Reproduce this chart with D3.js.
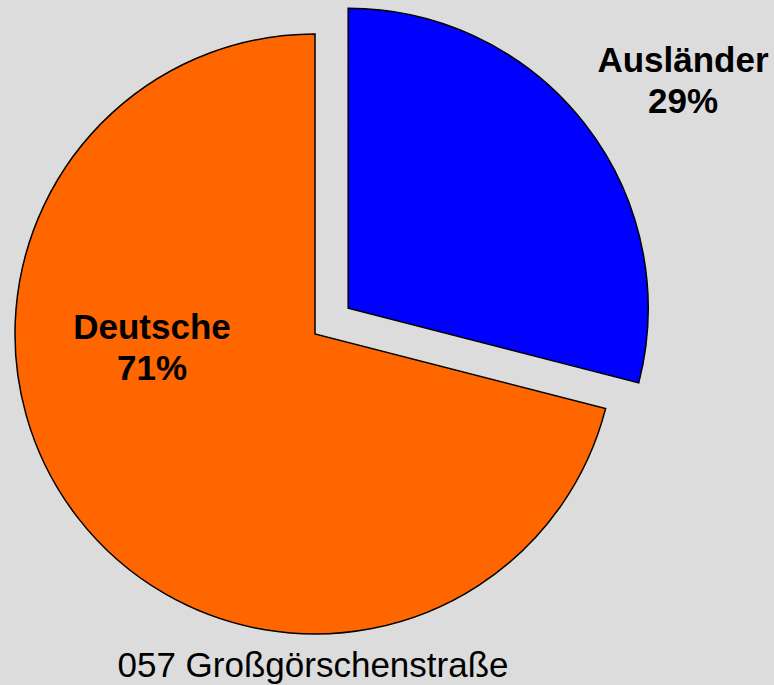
<!DOCTYPE html>
<html>
<head>
<meta charset="utf-8">
<script src="https://cdn.jsdelivr.net/npm/d3@7"></script>
<style>
  html, body { margin: 0; padding: 0; background: #dcdcdc; }
  svg { display: block; }
</style>
</head>
<body>
<div id="chart"></div>
<script>
// data
var categories = ['Ausländer', 'Deutsche']
var values = [29, 71]
var colors = ['#0000ff', '#ff6600']
var title = '057 Großgörschenstraße'

var width = 774, height = 685
var cx = 315, cy = 334, radius = 300
var explode = [42, 0]
// label anchor points (picked by eye from the original)
var labelPos = [[683, 72], [152, 339]]

var svg = d3.select('#chart').append('svg')
    .attr('width', width)
    .attr('height', height)

svg.append('rect')
    .attr('width', width)
    .attr('height', height)
    .attr('fill', '#dcdcdc')

var pie = d3.pie().sort(null).value(function(d){ return d })
var arc = d3.arc().innerRadius(0).outerRadius(radius)
var arcs = pie(values)

var g = svg.append('g')
    .attr('transform', 'translate(' + cx + ',' + cy + ')')

g.selectAll('path')
    .data(arcs)
  .enter().append('path')
    .attr('d', arc)
    .attr('fill', function(d, i){ return colors[i] })
    .attr('stroke', '#000')
    .attr('stroke-width', 1.5)
    .attr('stroke-linejoin', 'miter')
    .attr('transform', function(d, i){
      var a = (d.startAngle + d.endAngle) / 2
      return 'translate(' + (Math.sin(a) * explode[i]) + ',' + (-Math.cos(a) * explode[i]) + ')'
    })

// labels
var labels = svg.selectAll('.label')
    .data(arcs)
  .enter().append('text')
    .attr('class', 'label')
    .attr('x', function(d, i){ return labelPos[i][0] })
    .attr('y', function(d, i){ return labelPos[i][1] })
    .attr('text-anchor', 'middle')
    .attr('font-family', 'Liberation Sans, Arial, sans-serif')
    .attr('font-weight', 'bold')
    .attr('font-size', '35px')
    .attr('fill', '#000')

labels.append('tspan')
    .attr('x', function(d, i){ return labelPos[i][0] })
    .text(function(d, i){ return categories[i] })

labels.append('tspan')
    .attr('x', function(d, i){ return labelPos[i][0] })
    .attr('dy', 41)
    .text(function(d){ return d.data + '%' })

// title
svg.append('text')
    .attr('x', 313)
    .attr('y', 677)
    .attr('text-anchor', 'middle')
    .attr('font-family', 'Liberation Sans, Arial, sans-serif')
    .attr('font-size', '35px')
    .attr('fill', '#000')
    .text(title)
</script>
</body>
</html>
